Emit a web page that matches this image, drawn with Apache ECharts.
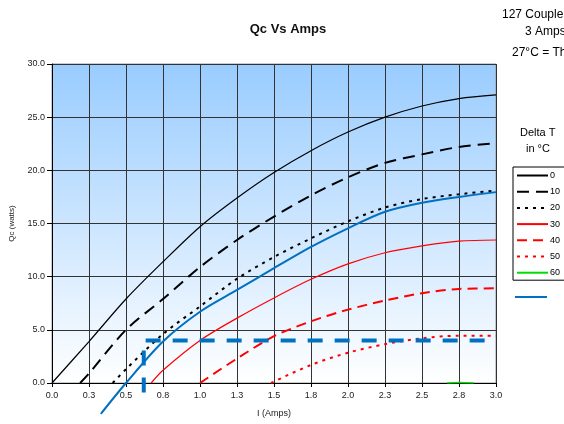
<!DOCTYPE html>
<html>
<head>
<meta charset="utf-8">
<script src="https://cdn.jsdelivr.net/npm/echarts@6/dist/echarts.min.js"></script>
<style>html,body{margin:0;padding:0;background:#fff}#c{width:564px;height:424px}</style>
</head>
<body>
<div id="c"></div>
<script>
// ---- data ----
const xTickLabels = ['0.0','0.3','0.5','0.8','1.0','1.3','1.5','1.8','2.0','2.3','2.5','2.8','3.0'];
const yTickLabels = ['0.0','5.0','10.0','15.0','20.0','25.0','30.0'];
const legendNames = ['0','10','20','30','40','50','60'];
// [current (A), Qc (W)]
const dt0  = [[0,0],[0.25,3.9],[0.5,7.9],[0.75,11.4],[1.0,14.7],[1.25,17.4],[1.5,19.8],[1.75,21.85],[2.0,23.6],[2.25,25.0],[2.5,26.05],[2.75,26.75],[3.0,27.1]];
const dt10 = [[0.19,0],[0.25,0.9],[0.5,5.0],[0.75,7.9],[1.0,10.9],[1.25,13.45],[1.5,15.65],[1.75,17.65],[2.0,19.35],[2.25,20.7],[2.5,21.5],[2.75,22.2],[3.0,22.55]];
const dt20 = [[0.41,0],[0.5,1.3],[0.75,4.6],[1.0,7.2],[1.25,9.8],[1.5,11.85],[1.75,13.6],[2.0,15.2],[2.25,16.5],[2.5,17.3],[2.75,17.75],[3.0,18.1]];
const dt30 = [[0.67,0],[0.75,1.2],[1.0,4.0],[1.25,6.1],[1.5,8.0],[1.75,9.75],[2.0,11.2],[2.25,12.25],[2.5,12.9],[2.75,13.35],[3.0,13.45]];
const dt40 = [[1.0,0],[1.25,2.3],[1.5,4.4],[1.75,5.8],[2.0,6.9],[2.25,7.75],[2.5,8.45],[2.75,8.85],[3.0,8.9]];
const dt50 = [[1.48,0],[1.75,1.7],[2.0,2.85],[2.25,3.65],[2.5,4.2],[2.75,4.45],[3.0,4.45]];
const dt60 = [[2.67,0],[2.75,0.05],[2.85,0]];
const loadLine = [[0.33,-2.9],[0.5,0],[0.75,3.9],[1.0,6.7],[1.25,8.75],[1.5,10.8],[1.75,12.8],[2.0,14.55],[2.25,16.1],[2.5,16.95],[2.75,17.5],[3.0,17.95]];
const operatingPoint = [[0.62,-0.9],[0.62,4.0],[3.0,4.0]];
const headerLines = ['127 Couples','3 Amps','27°C = Th'];

const FONT = 'Liberation Sans, Arial, sans-serif';
const chart = echarts.init(document.getElementById('c'), null, {renderer:'canvas'});

function curve(name, data, color, width, type) {
  return {
    name, type: 'line', data, symbol: 'none', smooth: 0.3,
    lineStyle: {color, width, type}, itemStyle: {color},
    z: 3, animation: false
  };
}
const hiddenSymbol = {color: 'rgba(0,0,0,0)', borderWidth: 0, opacity: 0};

chart.setOption({
  animation: false,
  textStyle: {fontFamily: FONT},
  title: {
    text: 'Qc Vs Amps', left: 283, top: 18, textAlign: 'center',
    textStyle: {fontSize: 13, fontWeight: 'bold', color: '#111', fontFamily: FONT}
  },
  grid: {
    left: 51, right: 68, top: 64, bottom: 41, show: true,
    borderColor: '#999', borderWidth: 1,
    backgroundColor: new echarts.graphic.LinearGradient(0, 0, 0, 1, [
      {offset: 0, color: '#99ccff'}, {offset: 1, color: '#ffffff'}
    ])
  },
  xAxis: {
    type: 'value', min: 0, max: 3, interval: 0.25,
    name: 'I (Amps)', nameLocation: 'middle', nameGap: 26,
    nameTextStyle: {fontSize: 9, color: '#222', fontFamily: FONT},
    axisLine: {show: true, lineStyle: {color: '#000', width: 1}},
    axisTick: {show: true, length: 4, lineStyle: {color: '#000'}},
    axisLabel: {fontSize: 9, color: '#222', margin: 8,
      formatter: v => xTickLabels[Math.round(v / 0.25)]},
    splitLine: {show: true, lineStyle: {color: '#333', width: 1}}
  },
  yAxis: {
    type: 'value', min: 0, max: 30, interval: 5,
    name: 'Qc (watts)', nameLocation: 'middle', nameGap: 36,
    nameTextStyle: {fontSize: 8, color: '#222', fontFamily: FONT},
    axisLine: {show: true, lineStyle: {color: '#000', width: 1}},
    axisTick: {show: true, length: 5, lineStyle: {color: '#000'}},
    axisLabel: {fontSize: 9, color: '#222', margin: 7,
      formatter: v => yTickLabels[Math.round(v / 5)]},
    splitLine: {show: true, lineStyle: {color: '#333', width: 1}}
  },
  legend: [{
    data: legendNames, orient: 'vertical', left: 513, top: 167,
    itemWidth: 31, itemHeight: 10, itemGap: 7.2,
    padding: [4, 30, 3, 3], borderColor: '#000', borderWidth: 1,
    selectedMode: false, itemStyle: hiddenSymbol,
    textStyle: {fontSize: 9, color: '#000', fontFamily: FONT, padding: [0,0,0,-3]}
  }, {
    data: ['Operating'], orient: 'vertical', left: 514, top: 292,
    itemWidth: 32, itemHeight: 10, selectedMode: false, itemStyle: hiddenSymbol,
    formatter: () => '', padding: 0
  }],
  graphic: [
    {type: 'text', left: 502, top: 9, style: {text: headerLines[0], font: '12px ' + FONT, fill: '#000'}},
    {type: 'text', left: 525, top: 26, style: {text: headerLines[1], font: '12px ' + FONT, fill: '#000'}},
    {type: 'text', left: 512, top: 47, style: {text: headerLines[2], font: '12px ' + FONT, fill: '#000'}},
    {type: 'text', left: 520, top: 127, style: {text: 'Delta T', font: '11px ' + FONT, fill: '#000'}},
    {type: 'text', left: 526, top: 143, style: {text: 'in °C', font: '11px ' + FONT, fill: '#000'}}
  ],
  series: [
    curve('0', dt0, '#000000', 1.2, 'solid'),
    curve('10', dt10, '#000000', 2, [12, 7]),
    curve('20', dt20, '#000000', 2, [3, 5]),
    curve('30', dt30, '#ff0000', 1.2, 'solid'),
    curve('40', dt40, '#ff0000', 2, [10, 6]),
    curve('50', dt50, '#ff0000', 2, [3, 5]),
    curve('60', dt60, '#00dd00', 1.5, 'solid'),
    Object.assign(curve('Operating', loadLine, '#0070c0', 2, 'solid'), {clip: false}),
    {
      name: 'op', type: 'line', data: operatingPoint, symbol: 'none', smooth: false,
      clip: false, lineStyle: {color: '#0070c0', width: 4, type: [15, 12]}, z: 4
    }
  ]
});
</script>
</body>
</html>
